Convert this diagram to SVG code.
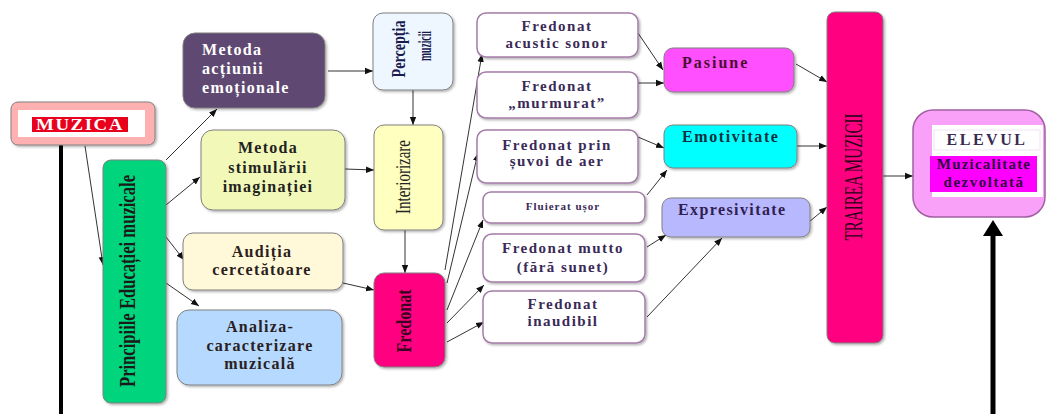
<svg xmlns="http://www.w3.org/2000/svg" width="1048" height="414" viewBox="0 0 1048 414">
<defs>
<marker id="ah" viewBox="0 0 10 10" refX="10" refY="5" markerWidth="8" markerHeight="8" markerUnits="userSpaceOnUse" orient="auto"><path d="M0,1 L10,5 L0,9 z" fill="#111"/></marker>
<filter id="sh" x="-10%" y="-10%" width="130%" height="130%"><feDropShadow dx="1.5" dy="1.5" stdDeviation="1" flood-color="#000" flood-opacity="0.3"/></filter>
</defs>
<style>
.t{font-family:"Liberation Serif","Times New Roman",serif;font-weight:bold;font-size:16px;letter-spacing:1.3px;text-anchor:middle}
.l{text-anchor:start}
.r{font-family:"Liberation Serif","Times New Roman",serif;text-anchor:middle}
.box{stroke:#808080;stroke-width:1;filter:url(#sh)}
.fb{fill:#fff;stroke:#a47ca8;stroke-width:1.5;filter:url(#sh)}
.ft{fill:#3a2a58;font-size:15px;letter-spacing:1.5px}
.c{stroke:#333;stroke-width:1;fill:none;marker-end:url(#ah)}
</style>
<rect width="1048" height="414" fill="#fff"/>
<g id="connectors">
<line x1="61" y1="145" x2="61" y2="414" stroke="#000" stroke-width="4"/>
<line x1="993" y1="414" x2="993" y2="234" stroke="#000" stroke-width="5"/>
<polygon points="983,236 1003,236 993,220" fill="#000"/>
<line class="c" x1="85" y1="146" x2="103" y2="265"/>
<line class="c" x1="166" y1="160" x2="217" y2="109"/>
<line class="c" x1="166" y1="205" x2="200" y2="177"/>
<line class="c" x1="166" y1="237" x2="184" y2="260"/>
<line class="c" x1="166" y1="283" x2="199" y2="306"/>
<line class="c" x1="328" y1="71" x2="373" y2="71"/>
<line class="c" x1="345" y1="169" x2="374" y2="170"/>
<line class="c" x1="343" y1="283" x2="374" y2="290"/>
<line class="c" x1="413" y1="90" x2="413" y2="125"/>
<line class="c" x1="405" y1="230" x2="405" y2="273"/>
<line class="c" x1="445" y1="270" x2="482" y2="54"/>
<line class="c" x1="447" y1="283" x2="478" y2="153"/>
<line class="c" x1="447" y1="310" x2="483" y2="220"/>
<line class="c" x1="447" y1="323" x2="484" y2="285"/>
<line class="c" x1="447" y1="342" x2="484" y2="322"/>
<line class="c" x1="638" y1="33" x2="663" y2="70"/>
<line class="c" x1="638" y1="83" x2="664" y2="83"/>
<line class="c" x1="638" y1="137" x2="664" y2="148"/>
<line class="c" x1="647" y1="195" x2="667" y2="170"/>
<line class="c" x1="647" y1="247" x2="666" y2="235"/>
<line class="c" x1="647" y1="317" x2="722" y2="238"/>
<line class="c" x1="796" y1="64" x2="827" y2="82"/>
<line class="c" x1="797" y1="146" x2="827" y2="146"/>
<line class="c" x1="809" y1="222" x2="827" y2="207"/>
<line class="c" x1="883" y1="176" x2="913" y2="176"/>
</g>
<g id="muzica">
<rect class="box" x="11" y="102" width="144" height="43" rx="7" fill="#ffb0b0"/>
<rect x="18" y="110" width="127" height="27" fill="#fff"/>
<rect x="32" y="117" width="96" height="15" fill="#e8001c"/>
<text class="t" x="80" y="130" fill="#fff" font-size="15" textLength="88" lengthAdjust="spacingAndGlyphs">MUZICA</text>
</g>
<g id="principiile">
<rect class="box" x="103" y="160" width="63" height="243" rx="8" fill="#00d47c"/>
<text class="r" transform="translate(135,281) rotate(-90)" font-size="23" font-weight="bold" fill="#1a1a1a" textLength="212" lengthAdjust="spacingAndGlyphs">Principiile Educației muzicale</text>
</g>
<g id="metoda-actiunii">
<rect class="box" x="183" y="33" width="142" height="75" rx="12" fill="#5e4872"/>
<text class="t l" x="202" y="55" fill="#fff">Metoda</text>
<text class="t l" x="202" y="74" fill="#fff">acțiunii</text>
<text class="t l" x="202" y="93" fill="#fff">emoționale</text>
</g>
<g id="metoda-stimularii">
<rect class="box" x="201" y="130" width="144" height="80" rx="12" fill="#f2f9b8"/>
<text class="t" x="268" y="153" fill="#222">Metoda</text>
<text class="t" x="268" y="173" fill="#222">stimulării</text>
<text class="t" x="268" y="192" fill="#222">imaginației</text>
</g>
<g id="auditia">
<rect class="box" x="183" y="233" width="160" height="57" rx="10" fill="#fff9d9"/>
<text class="t" x="262" y="257" fill="#2a2020">Audiția</text>
<text class="t" x="262" y="275" fill="#2a2020">cercetătoare</text>
</g>
<g id="analiza">
<rect class="box" x="177" y="310" width="165" height="75" rx="12" fill="#b5d9ff"/>
<text class="t" x="260" y="332" fill="#2a2020">Analiza-</text>
<text class="t" x="260" y="351" fill="#2a2020">caracterizare</text>
<text class="t" x="260" y="369" fill="#2a2020">muzicală</text>
</g>
<g id="perceptia">
<rect class="box" x="373" y="13" width="80" height="77" rx="10" fill="#eef7ff"/>
<text class="r" transform="translate(405,49) rotate(-90)" font-size="19" font-weight="bold" fill="#1a1a50" textLength="57" lengthAdjust="spacingAndGlyphs">Percepția</text>
<text class="r" transform="translate(431,46) rotate(-90)" font-size="19" font-weight="bold" fill="#1a1a50" textLength="30" lengthAdjust="spacingAndGlyphs">muzicii</text>
</g>
<g id="interiorizare">
<rect class="box" x="374" y="125" width="69" height="105" rx="10" fill="#ffffc0"/>
<text class="r" transform="translate(410,177) rotate(-90)" font-size="20" fill="#222" textLength="74" lengthAdjust="spacingAndGlyphs">Interiorizare</text>
</g>
<g id="fredonat">
<rect class="box" x="374" y="273" width="71" height="94" rx="10" fill="#ff0080"/>
<text class="r" transform="translate(411,321) rotate(-90)" font-size="20" font-weight="bold" fill="#3a0020" textLength="63" lengthAdjust="spacingAndGlyphs">Fredonat</text>
</g>
<g id="fredonat-acustic">
<rect class="fb" x="477" y="13" width="161" height="44" rx="9"/>
<text class="t ft" x="557" y="31">Fredonat</text>
<text class="t ft" x="557" y="48">acustic sonor</text>
</g>
<g id="fredonat-murmurat">
<rect class="fb" x="477" y="72" width="161" height="46" rx="9"/>
<text class="t ft" x="557" y="91">Fredonat</text>
<text class="t ft" x="557" y="108">„murmurat”</text>
</g>
<g id="fredonat-suvoi">
<rect class="fb" x="477" y="130" width="161" height="53" rx="9"/>
<text class="t ft" x="557" y="150" fill="#4a2048">Fredonat  prin</text>
<text class="t ft" x="557" y="166" fill="#4a2048">șuvoi de aer</text>
</g>
<g id="fluierat">
<rect class="fb" x="483" y="192" width="162" height="31" rx="8"/>
<text class="t ft" x="563" y="210" style="font-size:11px;letter-spacing:1px">Fluierat  ușor</text>
</g>
<g id="fredonat-mutto">
<rect class="fb" x="483" y="234" width="162" height="48" rx="9"/>
<text class="t ft" x="563" y="253">Fredonat mutto</text>
<text class="t ft" x="563" y="272">(fără sunet)</text>
</g>
<g id="fredonat-inaudibil">
<rect class="fb" x="483" y="291" width="162" height="52" rx="9"/>
<text class="t ft" x="563" y="309">Fredonat</text>
<text class="t ft" x="563" y="326">inaudibil</text>
</g>
<g id="pasiune">
<rect class="box" x="664" y="48" width="130" height="44" rx="9" fill="#ff50ff"/>
<text class="t l" x="682" y="68" fill="#4a1030" style="letter-spacing:2px">Pasiune</text>
</g>
<g id="emotivitate">
<rect class="box" x="664" y="125" width="133" height="43" rx="9" fill="#00ffff"/>
<text class="t l" x="682" y="142" fill="#103040" style="letter-spacing:1.6px">Emotivitate</text>
</g>
<g id="expresivitate">
<rect class="box" x="662" y="198" width="148" height="39" rx="9" fill="#b8b8ff"/>
<text class="t l" x="678" y="215" fill="#302050" style="letter-spacing:1.4px">Expresivitate</text>
</g>
<g id="trairea">
<rect class="box" x="827" y="12" width="56" height="331" rx="8" fill="#ff0080"/>
<text class="r" transform="translate(862,177) rotate(-90)" font-size="25" fill="#2a0018" textLength="127" lengthAdjust="spacingAndGlyphs">TRAIREA MUZICII</text>
</g>
<g id="elevul">
<rect x="913" y="110" width="132" height="107" rx="20" fill="#f9a0f9" stroke="#a060a0" stroke-width="1.5"/>
<rect x="932" y="125" width="111" height="72" fill="#fff"/>
<rect x="934" y="130" width="106" height="20" fill="#fff" stroke="#f3e3f3"/>
<text class="t" x="987" y="145" fill="#3a2a50" style="letter-spacing:2.5px">ELEVUL</text>
<rect x="930" y="156" width="107" height="36" fill="#ff00ff"/>
<text class="t" x="984" y="169" fill="#300040" style="font-size:15px;letter-spacing:1.2px">Muzicalitate</text>
<text class="t" x="984" y="187" fill="#300040" style="font-size:15px;letter-spacing:1.5px">dezvoltată</text>
</g>
</svg>
